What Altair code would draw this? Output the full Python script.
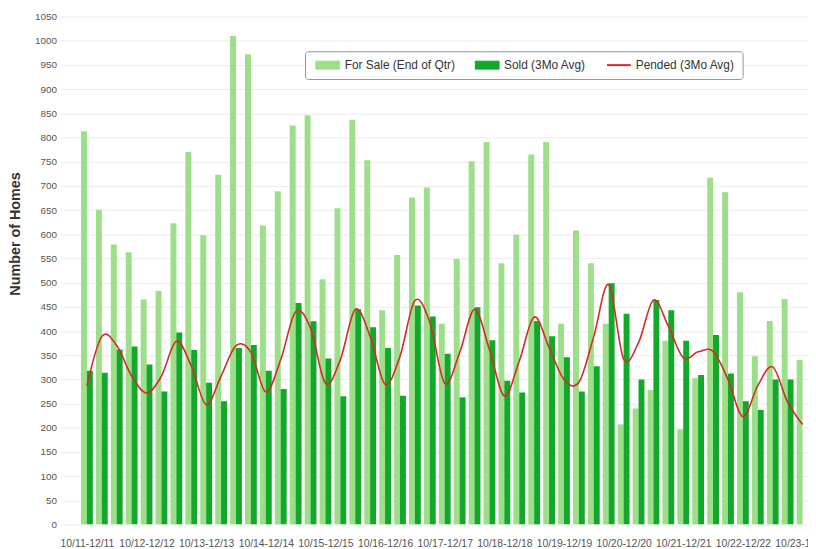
import altair as alt
import pandas as pd

# ---- data ----
categories = []
for yy in range(11, 24):
    categories.append(f"10/{yy}-12/{yy}")
    if yy < 23:
        nxt = yy + 1
        categories += [f"1/{nxt}-3/{nxt}", f"4/{nxt}-6/{nxt}", f"7/{nxt}-9/{nxt}"]

for_sale = [813, 651, 579, 563, 465, 483, 623, 770, 598, 723, 1010, 972, 618, 689,
            825, 846, 507, 654, 837, 753, 443, 557, 676, 697, 415, 549, 751, 791,
            540, 599, 765, 791, 415, 608, 540, 415, 207, 240, 278, 380, 197, 303,
            717, 687, 480, 348, 421, 466, 340]
sold = [318, 314, 362, 368, 331, 275, 397, 361, 293, 255, 365, 371, 318, 280,
        458, 420, 343, 265, 445, 408, 365, 266, 453, 430, 353, 263, 449, 381,
        297, 273, 421, 389, 346, 275, 327, 499, 436, 300, 464, 443, 380, 309,
        392, 312, 255, 237, 300, 300, None]
pended = [287, 389, 370, 307, 272, 307, 379, 328, 248, 307, 370, 356, 274, 341,
          440, 406, 292, 341, 445, 389, 290, 348, 463, 418, 292, 355, 445, 362,
          266, 338, 429, 366, 300, 294, 389, 496, 342, 376, 464, 410, 345, 357,
          358, 300, 223, 287, 326, 253, 207]

SALE = "For Sale (End of Qtr)"
SOLD = "Sold (3Mo Avg)"
PEND = "Pended (3Mo Avg)"
LIGHT = "#9ddf88"
DARK = "#12a82a"
RED = "#d62a2a"

n = len(categories)
rows = []
for i in range(n):
    rows.append({"idx": i, "series": SALE, "value": for_sale[i]})
    if sold[i] is not None:
        rows.append({"idx": i, "series": SOLD, "value": sold[i]})
bars_df = pd.DataFrame(rows)
line_df = pd.DataFrame({"idx": list(range(n)), "series": [PEND] * n, "value": pended})

label_array = "[" + ",".join(f"'{c}'" for c in categories) + "]"

FONT = "Liberation Sans"
color_scale = alt.Scale(domain=[SALE, SOLD, PEND], range=[LIGHT, DARK, RED])
x_scale = alt.Scale(domain=[-1.4417, 48.035], nice=False, zero=False)
y_scale = alt.Scale(domain=[0, 1050], nice=False)

x_enc = alt.X("xpos:Q", scale=x_scale, title=None,
              axis=alt.Axis(values=list(range(0, n, 4)), labelExpr=f"{label_array}[datum.value]",
                            grid=False, ticks=False, domain=False, labelPadding=14,
                            labelFont=FONT, labelFontSize=10.5, labelColor="#555",
                            labelOverlap=False, labelFlush=False, labelBound=False,
                            labelBaseline="top"))
y_enc = alt.Y("value:Q", scale=y_scale,
              axis=alt.Axis(values=list(range(0, 1051, 50)), format="d", grid=True,
                            gridColor="#ebebeb", domain=False, ticks=False, labelPadding=4,
                            labelFont=FONT, labelFontSize=10, labelColor="#555",
                            title="Number of Homes", titleFont=FONT, titleFontSize=14.5,
                            titleFontWeight="bold", titleColor="#333", titleAngle=270,
                            titleX=-41, titleY=219, titleBaseline="alphabetic"))

is_pend = f"datum.value === '{PEND}'"
is_sale = f"datum.value === '{SALE}'"
legend = alt.Legend(
    title=None, orient="none", legendX=247, legendY=35, direction="horizontal",
    fillColor="white", strokeColor="#8796ad", padding=8, cornerRadius=3,
    labelFont=FONT, labelFontSize=12, labelColor="#333", columnPadding=17,
    labelOffset=15, symbolOffset=5, symbolSize=256,
    symbolType={"expr": f"{is_pend} ? 'M-1,0H2' : 'M-1,-0.5H2V0.5H-1Z'"},
    symbolFillColor={"expr": f"{is_pend} ? 'transparent' : ({is_sale} ? '{LIGHT}' : '{DARK}')"},
    symbolStrokeColor={"expr": f"{is_pend} ? '{RED}' : ({is_sale} ? '{LIGHT}' : '{DARK}')"},
    symbolStrokeWidth={"expr": f"{is_pend} ? 2 : 1"},
    symbolOpacity=1,
)

bars = alt.Chart(bars_df).transform_calculate(
    xpos=f"datum.idx + (datum.series === '{SALE}' ? -0.1966 : 0.1966)"
).mark_bar(size=6, clip=True).encode(
    x=x_enc, y=y_enc,
    color=alt.Color("series:N", scale=color_scale, legend=legend),
)

line = alt.Chart(line_df).transform_calculate(xpos="datum.idx").mark_line(
    interpolate="cardinal", strokeWidth=1.6, clip=True
).encode(
    x=x_enc, y=y_enc,
    color=alt.Color("series:N", scale=color_scale, legend=legend),
)

chart = alt.layer(bars, line).properties(
    width=755, height=513,
    autosize=alt.AutoSizeParams(type="none"),
    padding={"left": 53, "top": 6, "right": 0, "bottom": 22},
    background="white",
).configure_view(stroke=None)

chart.save("out.html", embed_options={"renderer": "svg", "actions": False})
